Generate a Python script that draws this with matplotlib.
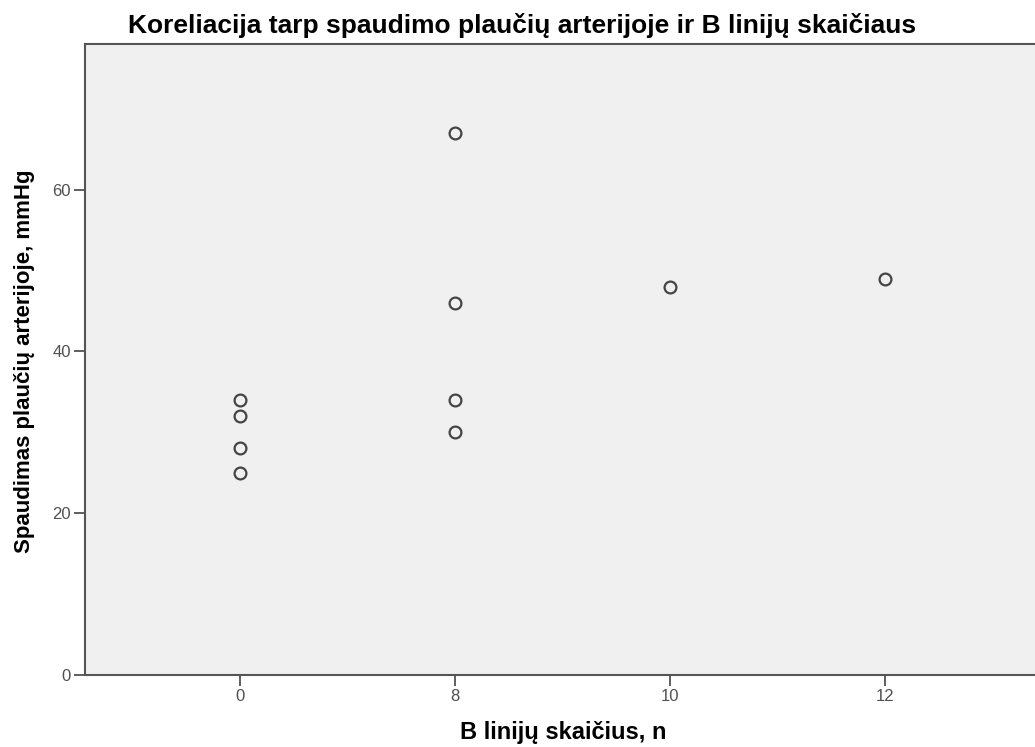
import matplotlib.pyplot as plt

# data
categories = ['0', '8', '10', '12']
b_lines = ['0', '0', '0', '0', '8', '8', '8', '8', '10', '12']
pressure = [34, 32, 28, 25, 67, 46, 34, 30, 48, 49]
y_ticks = [0, 20, 40, 60]

plt.rcParams['font.family'] = ['Liberation Sans', 'DejaVu Sans']

W, H = 1035, 747
fig = plt.figure(figsize=(W / 100, H / 100), dpi=100)
ax = fig.add_axes([85 / W, (H - 675) / H, 955 / W, 631 / H])
ax.set_facecolor('#f0f0f0')

xpos = [categories.index(c) for c in b_lines]
ax.plot(xpos, pressure, linestyle='none', marker='o', markersize=8.5,
        markerfacecolor='none', markeredgecolor='#444444', markeredgewidth=1.6)

ax.set_xlim(-0.72, 3.72)
ax.set_ylim(0, 78)
ax.set_xticks(range(len(categories)))
ax.set_xticklabels(categories)
ax.set_yticks(y_ticks)

for side in ['top', 'bottom', 'left', 'right']:
    ax.spines[side].set_color('#555555')
    ax.spines[side].set_linewidth(1.5)
ax.tick_params(direction='out', length=8, width=1.2, color='#444444',
               labelcolor='#505050', labelsize=12, pad=2)

fig.text(563 / W, 1 - 733 / H, 'B linijų skaičius, n',
         ha='center', va='center', fontsize=17, fontweight='bold')
fig.text(25 / W, 1 - 361 / H, 'Spaudimas plaučių arterijoje, mmHg',
         ha='center', va='center', rotation=90, fontsize=16, fontweight='bold')
fig.text(522 / W, 1 - 25 / H, 'Koreliacija tarp spaudimo plaučių arterijoje ir B linijų skaičiaus',
         ha='center', va='center', fontsize=19, fontweight='bold')

fig.savefig('out.png', dpi=100)
